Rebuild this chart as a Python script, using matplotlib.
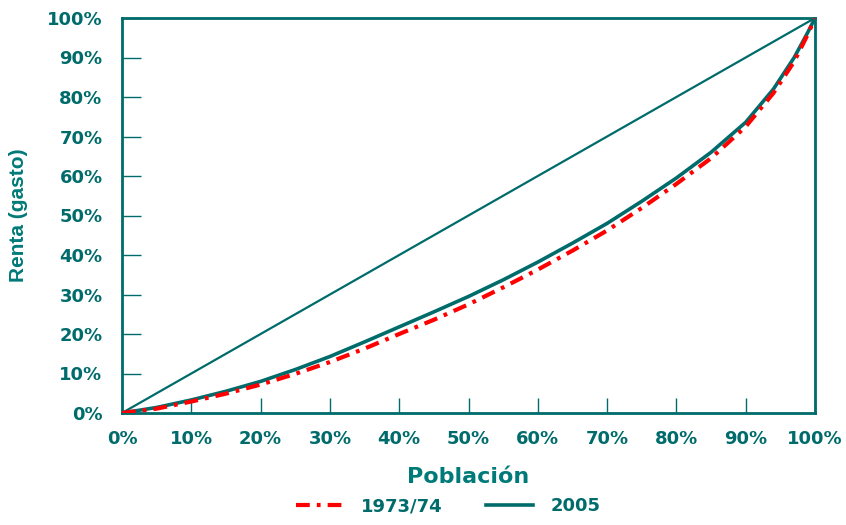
import numpy as np
import matplotlib
matplotlib.use('Agg')
import matplotlib.pyplot as plt
from matplotlib.ticker import FuncFormatter

# Lorenz curves (population %, income %)
poblacion = [0, 5, 10, 15, 20, 25, 30, 35, 40, 45, 50, 55, 60, 65, 70, 75, 80, 85, 90, 94, 97, 99, 100]
renta_1973 = [0, 1.1, 2.9, 4.9, 7.2, 9.9, 12.9, 16.3, 20.0, 23.6, 27.5, 31.8, 36.3,
              41.1, 46.2, 51.9, 58.0, 64.5, 72.5, 81, 89, 96, 100]
renta_2005 = [0, 1.4, 3.3, 5.5, 8.0, 11.0, 14.3, 18.0, 21.8, 25.6, 29.5, 33.7, 38.2,
              43.0, 48.0, 53.6, 59.5, 66, 73.6, 82, 90, 96.5, 100]
igualdad = [0, 100]
ticks = list(range(0, 101, 10))

teal = '#006B6B'
teal_lbl = '#007A78'
red = '#FF0000'

fig = plt.figure(figsize=(8.46, 5.25), dpi=100)
ax = fig.add_axes([122 / 846, 1 - 413 / 525, (815 - 122) / 846, (413 - 18) / 525])

ax.plot(igualdad, igualdad, color=teal, lw=1.6, zorder=2)
ax.plot(poblacion, renta_2005, color=teal, lw=2.6, zorder=3, label='2005')
ax.plot(poblacion, renta_1973, color=red, lw=3, zorder=4,
        linestyle=(0, (3.3, 1.7, 0.9, 1.7)), label='1973/74')

ax.set_xlim(0, 100)
ax.set_ylim(0, 100)
ax.set_xticks(ticks)
ax.set_yticks(ticks)
pct = FuncFormatter(lambda v, pos: '%d%%' % v)
ax.xaxis.set_major_formatter(pct)
ax.yaxis.set_major_formatter(pct)

for s in ax.spines.values():
    s.set_color(teal)
    s.set_linewidth(2)

ax.tick_params(axis='x', direction='in', length=11, width=1, color=teal,
               labelcolor=teal, labelsize=13, pad=12)
ax.tick_params(axis='y', direction='in', length=14, width=1, color=teal,
               labelcolor=teal, labelsize=13, pad=14)
for lbl in ax.get_xticklabels() + ax.get_yticklabels():
    lbl.set_fontweight('bold')

ax.set_xlabel('Población', fontsize=16, fontweight='bold', color=teal_lbl, labelpad=14)
fig.text(18 / 846, 1 - 215 / 525, 'Renta (gasto)', rotation=90, ha='center', va='center',
         fontsize=15, fontweight='bold', color=teal_lbl, family='Liberation Sans')

h, l = ax.get_legend_handles_labels()
leg = fig.legend(h[::-1], l[::-1], loc='lower center', bbox_to_anchor=(0.53, -0.012),
                 ncol=2, frameon=False, handlelength=2.6, handletextpad=1.0,
                 columnspacing=2.4, prop={'weight': 'bold', 'size': 13})
for t in leg.get_texts():
    t.set_color(teal)

fig.savefig('out.png', dpi=100)
